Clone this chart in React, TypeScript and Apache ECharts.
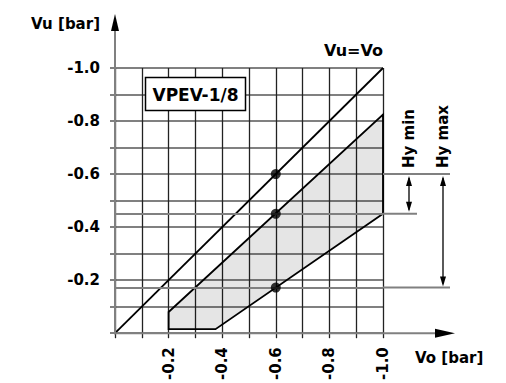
import React, { useEffect, useRef } from "react";
import * as echarts from "echarts";

// Vo [bar] (x) and Vu [bar] (y) values
const diagonalLine: number[][] = [[0, 0], [-1, -1]]; // Vu = Vo
const regionPolygon: number[][] = [
  [-0.2, -0.015],
  [-0.2, -0.08],
  [-1.0, -0.824],
  [-1.0, -0.45],
  [-0.375, -0.015],
];
const markerPoints: number[][] = [[-0.6, -0.6], [-0.6, -0.45], [-0.6, -0.172]];
const refLinesY: number[] = [-0.45, -0.172];
const hyMinRange: number[] = [-0.6, -0.45];
const hyMaxRange: number[] = [-0.6, -0.172];
const labelText = { yName: "Vu [bar]", xName: "Vo [bar]", diag: "Vu=Vo", box: "VPEV-1/8", hyMin: "Hy min", hyMax: "Hy max" };

const FONT = "DejaVu Sans";

const fmt = (v: number) => {
  const r = Math.round(v * 10);
  return r % 2 === 0 && r !== 0 ? (r / 10).toFixed(1) : "";
};

export default function App() {
  const ref = useRef<HTMLDivElement>(null);
  useEffect(() => {
    if (!ref.current) return;
    const chart = echarts.init(ref.current, undefined, { renderer: "svg" });
    const option: any = {
      animation: false,
      backgroundColor: "#fff",
      grid: { left: 115, top: 68, width: 268, height: 267 },
      xAxis: {
        type: "value",
        min: -1,
        max: 0,
        interval: 0.1,
        inverse: true,
        axisLine: { show: false },
        axisTick: { show: true, length: 5, lineStyle: { color: "#222", width: 1.3 } },
        splitLine: { show: true, lineStyle: { color: "#222", width: 1.3 } },
        axisLabel: {
          formatter: fmt,
          rotate: 90,
          margin: 14,
          color: "#000",
          fontFamily: FONT,
          fontWeight: "bold",
          fontSize: 15,
          showMinLabel: true,
          showMaxLabel: true,
        },
      },
      yAxis: {
        type: "value",
        min: -1,
        max: 0,
        interval: 0.1,
        inverse: true,
        axisLine: { show: false },
        axisTick: { show: true, length: 5, lineStyle: { color: "#808080", width: 2 } },
        splitLine: { show: true, lineStyle: { color: "#808080", width: 2 } },
        axisLabel: {
          formatter: fmt,
          margin: 15,
          color: "#000",
          fontFamily: FONT,
          fontWeight: "bold",
          fontSize: 15,
          showMinLabel: true,
          showMaxLabel: true,
        },
      },
      series: [
        {
          type: "custom",
          data: regionPolygon,
          renderItem: (params: any, api: any) => {
            if (params.dataIndex !== 0) return null;
            const points = regionPolygon.map((p) => api.coord(p));
            return {
              type: "polygon",
              shape: { points },
              style: { fill: "rgba(0,0,0,0.1)", stroke: "#000", lineWidth: 1.8 },
            };
          },
          z: 3,
        },
        {
          type: "line",
          data: diagonalLine,
          showSymbol: false,
          lineStyle: { color: "#000", width: 1.8 },
          z: 4,
          markLine: {
            silent: true,
            symbol: "none",
            label: { show: false },
            lineStyle: { color: "#808080", width: 2, type: "solid" },
            data: refLinesY.map((y) => ({ yAxis: y })),
          },
        },
        {
          type: "scatter",
          data: markerPoints,
          symbolSize: 10,
          itemStyle: { color: "#000" },
          z: 5,
        },
      ],
    };
    chart.setOption(option);

    const px = (p: number[]) => chart.convertToPixel({ gridIndex: 0 }, p) as number[];
    const origin = px([0, 0]);
    const rightX = px([-1, 0])[0];
    const yMinTop = px([0, hyMinRange[0]])[1];
    const yMinBot = px([0, hyMinRange[1]])[1];
    const yMaxTop = px([0, hyMaxRange[0]])[1];
    const yMaxBot = px([0, hyMaxRange[1]])[1];
    const topY = px([0, -1])[1];

    const gray = "#808080";
    const hyMinX = rightX + 26;
    const hyMaxX = rightX + 60;
    const extEnd = rightX + 67;

    const arrowUp = (x: number, y: number) => ({
      type: "polygon",
      shape: { points: [[x, y], [x - 3, y + 10], [x + 3, y + 10]] },
      style: { fill: "#000" },
      z: 10,
    });
    const arrowDown = (x: number, y: number) => ({
      type: "polygon",
      shape: { points: [[x, y], [x - 3, y - 10], [x + 3, y - 10]] },
      style: { fill: "#000" },
      z: 10,
    });
    const hline = (x1: number, x2: number, y: number) => ({
      type: "line",
      shape: { x1, y1: y, x2, y2: y },
      style: { stroke: gray, lineWidth: 2 },
      z: 10,
    });
    const vline = (x: number, y1: number, y2: number) => ({
      type: "line",
      shape: { x1: x, y1, x2: x, y2 },
      style: { stroke: "#000", lineWidth: 1.3 },
      z: 10,
    });
    const txt = (text: string, x: number, y: number, align: string, size = 15, extra: any = {}) => ({
      type: "text",
      x,
      y,
      z: 12,
      ...extra,
      style: {
        text,
        fill: "#000",
        font: `bold ${size}px "${FONT}"`,
        align,
        verticalAlign: "middle",
      },
    });

    chart.setOption({
      graphic: [
        // axes with arrows
        {
          type: "line",
          shape: { x1: origin[0], y1: origin[1] + 1, x2: origin[0], y2: 30 },
          style: { stroke: gray, lineWidth: 2 },
          z: 10,
        },
        {
          type: "polygon",
          shape: { points: [[origin[0], 14], [origin[0] - 4, 31], [origin[0] + 4, 31]] },
          style: { fill: "#000" },
          z: 10,
        },
        {
          type: "line",
          shape: { x1: origin[0] - 1, y1: origin[1], x2: 437, y2: origin[1] },
          style: { stroke: gray, lineWidth: 2 },
          z: 10,
        },
        {
          type: "polygon",
          shape: { points: [[455, origin[1]], [435, origin[1] - 4.5], [435, origin[1] + 4.5]] },
          style: { fill: "#000" },
          z: 10,
        },
        // extended reference lines
        hline(rightX, extEnd, yMinTop),
        hline(rightX, hyMinX + 8, yMinBot),
        hline(rightX, extEnd, yMaxBot),
        // Hy min dimension
        vline(hyMinX, yMinTop + 4, yMinBot - 4),
        arrowUp(hyMinX, yMinTop + 2),
        arrowDown(hyMinX, yMinBot - 2),
        // Hy max dimension
        vline(hyMaxX, yMaxTop + 4, yMaxBot - 4),
        arrowUp(hyMaxX, yMaxTop + 2),
        arrowDown(hyMaxX, yMaxBot - 1),
        // texts
        txt(labelText.yName, 100, 24, "right"),
        txt(labelText.xName, 415, 358, "left"),
        txt(labelText.diag, rightX, topY - 18, "right", 16),
        {
          type: "rect",
          shape: { x: 145.5, y: 77.5, width: 100, height: 33 },
          style: { fill: "#fff", stroke: "#000", lineWidth: 1.5 },
          z: 11,
        },
        txt(labelText.box, 195.5, 94.5, "center", 17),
        txt(labelText.hyMin, hyMinX, 168, "left", 15, { rotation: Math.PI / 2 }),
        txt(labelText.hyMax, hyMaxX, 168, "left", 15, { rotation: Math.PI / 2 }),
      ],
    });

    return () => chart.dispose();
  }, []);
  return (
    <div
      ref={ref}
      style={{ position: "fixed", left: 0, top: 0, width: 506, height: 383, background: "#fff" }}
    />
  );
}
